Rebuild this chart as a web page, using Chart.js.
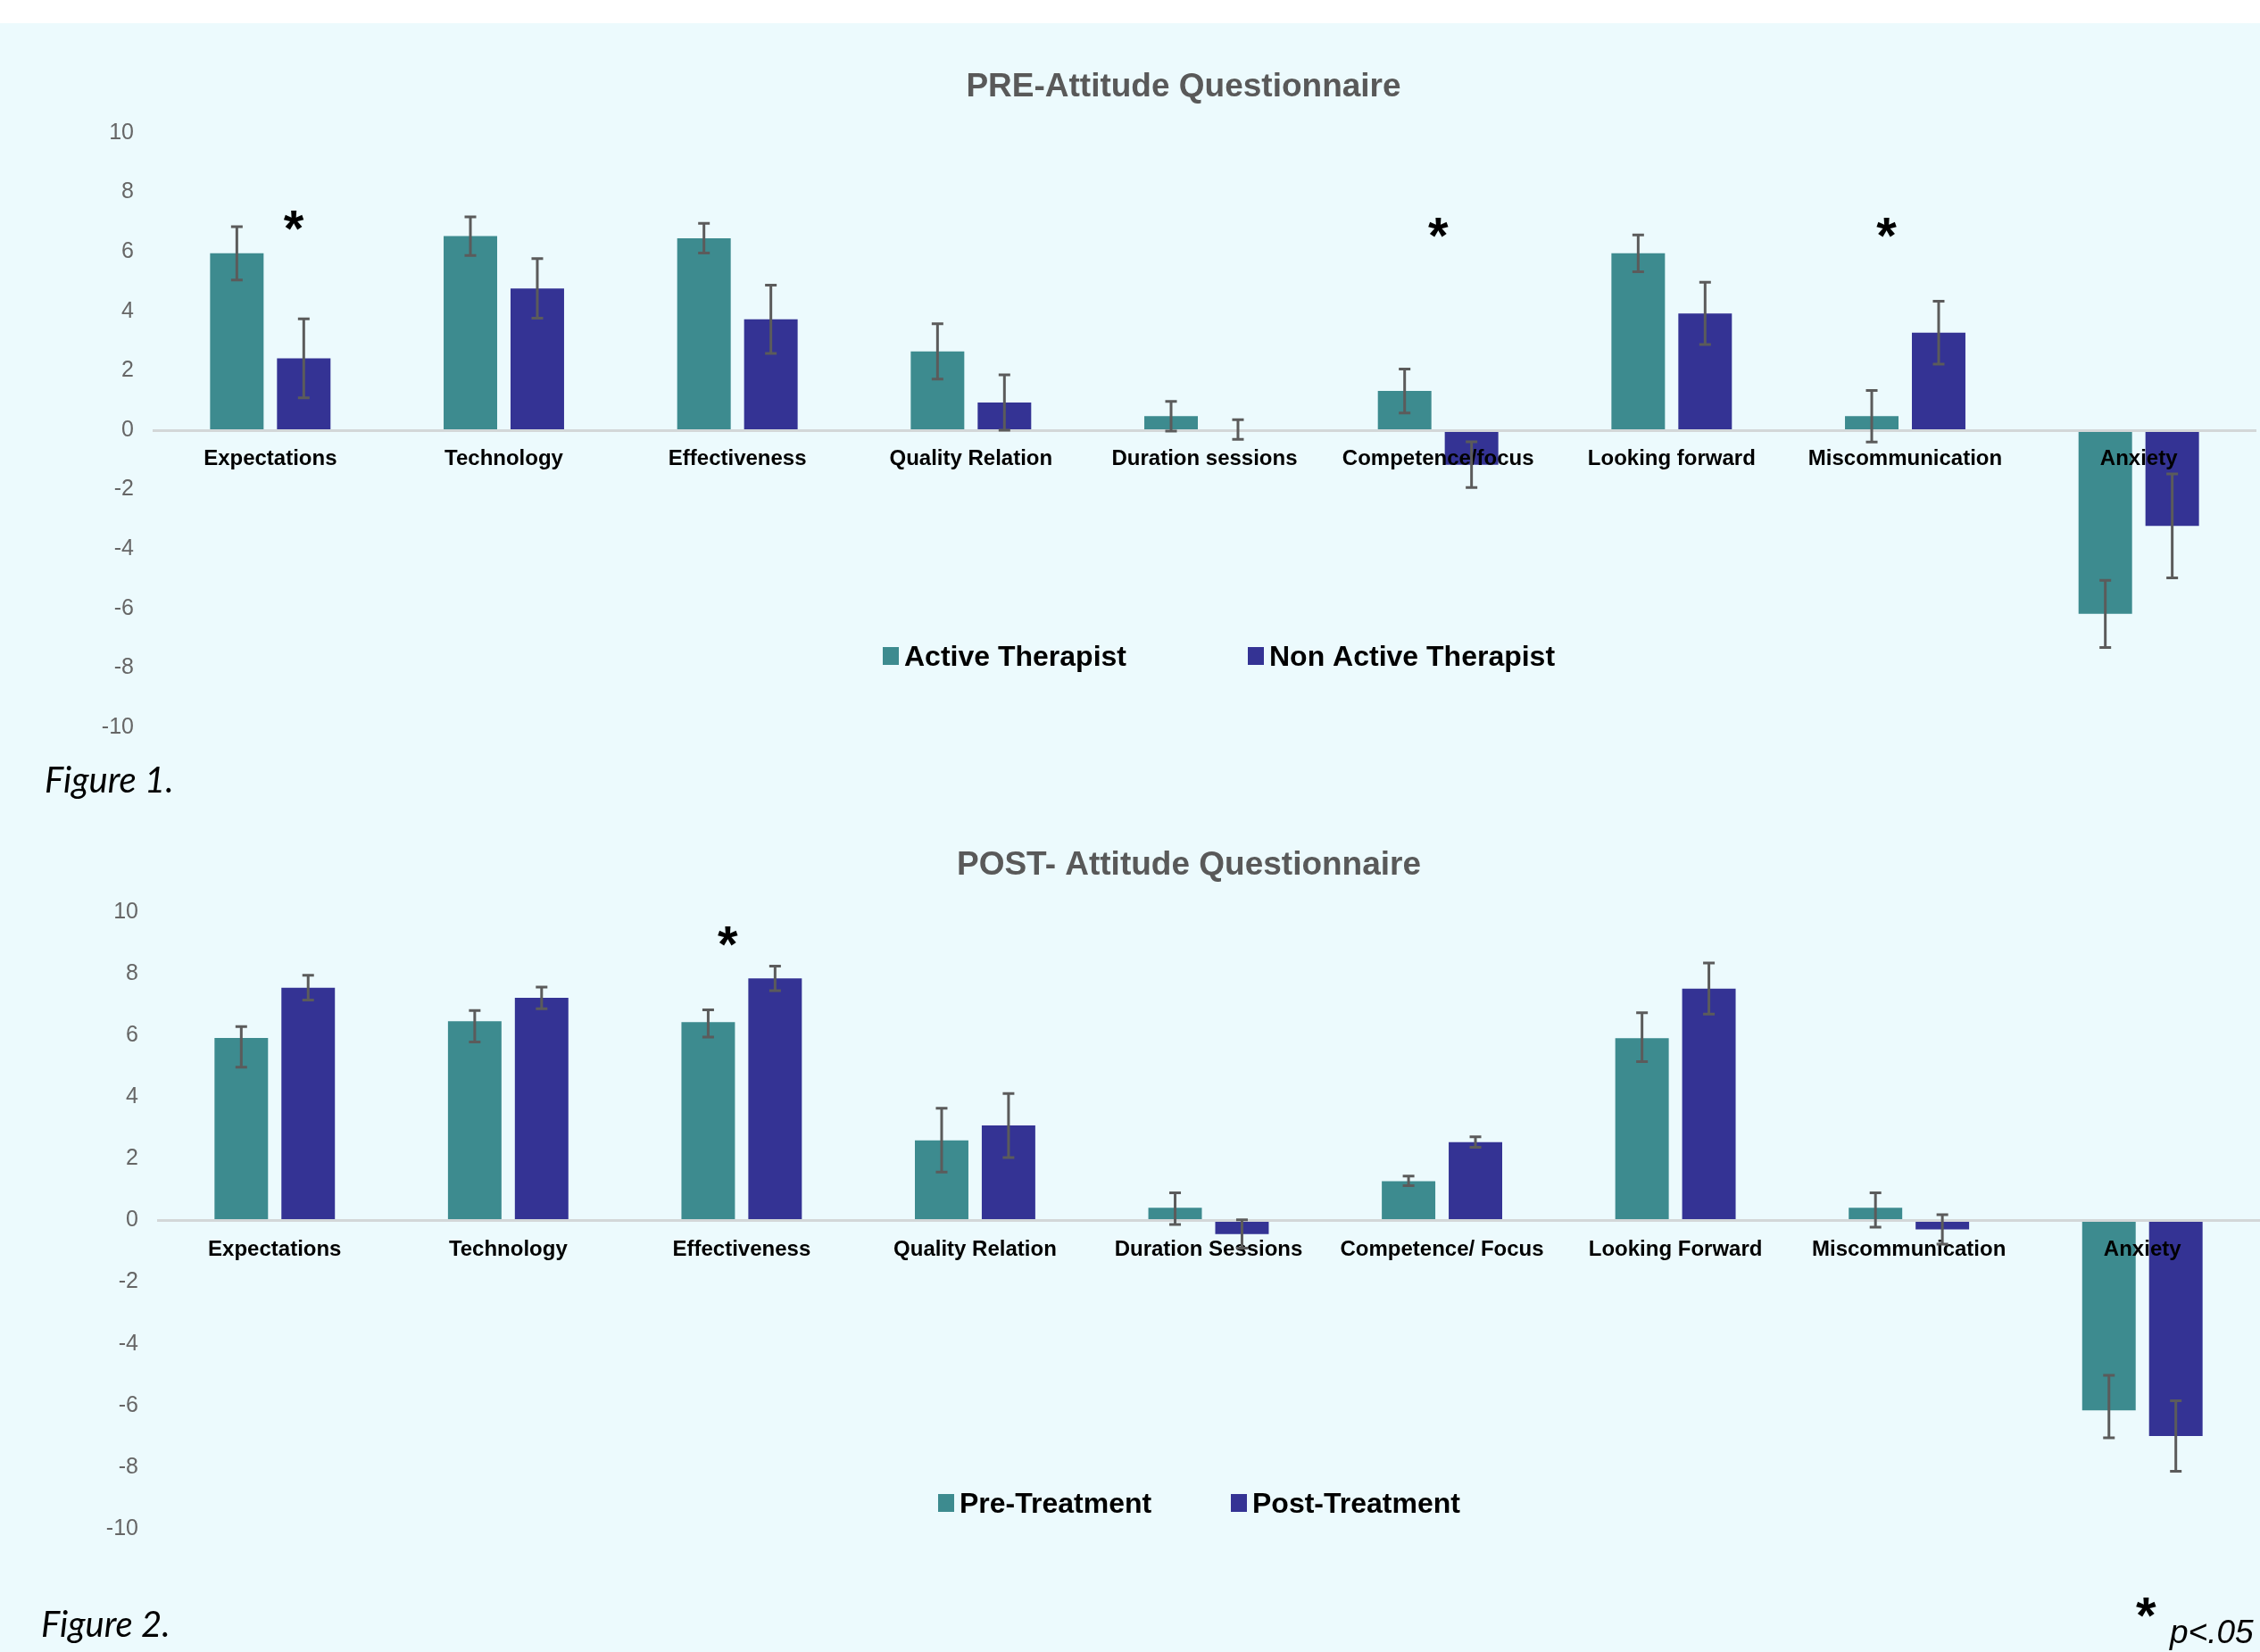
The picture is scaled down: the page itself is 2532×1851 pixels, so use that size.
<!DOCTYPE html>
<html>
<head>
<meta charset="utf-8">
<title>Attitude Questionnaire</title>
<script src="https://cdn.jsdelivr.net/npm/chart.js@4/dist/chart.umd.min.js"></script>
<style>
  html, body { margin: 0; padding: 0; }
  body {
    width: 2532px; height: 1851px; overflow: hidden; position: relative;
    background: #ECFAFD;
    font-family: "Liberation Sans", Arial, sans-serif;
  }
  #topband { position: absolute; left: 0; top: 0; width: 2532px; height: 26px; background: #ffffff; }
  canvas { position: absolute; left: 0; }
  #preChart { top: 26px; }
  #postChart { top: 880px; }
  .note { position: absolute; white-space: nowrap; color: #000; z-index: 2; }
  .fig { font-family: Lato, "Open Sans", sans-serif; font-style: italic; font-size: 40px; line-height: 40px; }
  .star { font-family: "Liberation Sans", Arial, sans-serif; font-weight: bold; font-size: 58px; line-height: 58px; }
  .pval { font-family: "Liberation Sans", Arial, sans-serif; font-style: italic; font-size: 37px; line-height: 37px; }
</style>
</head>
<body>
<div id="topband"></div>
<canvas id="preChart" width="2532" height="854"></canvas>
<canvas id="postChart" width="2532" height="971"></canvas>
<div class="note fig" style="left:50px; top:853px;">Figure 1.</div>
<div class="note fig" style="left:46px; top:1799px;">Figure 2.</div>
<div class="note star" style="left:2393px; top:1781px;">*</div>
<div class="note pval" style="left:2431px; top:1810px;">p&lt;.05</div>

<script>
// ---- PRE-Attitude Questionnaire ----
const preCategories = ['Expectations', 'Technology', 'Effectiveness', 'Quality Relation',
  'Duration sessions', 'Competence/focus', 'Looking forward', 'Miscommunication', 'Anxiety'];
const activeTherapist     = [5.95, 6.53, 6.46, 2.65, 0.47, 1.32, 5.95, 0.47, -6.18];
const activeTherapistErr  = [0.90, 0.65, 0.50, 0.93, 0.50, 0.74, 0.62, 0.87, 1.13];
const nonActiveTherapist    = [2.42, 4.77, 3.73, 0.93, 0.02, -1.16, 3.93, 3.28, -3.22];
const nonActiveTherapistErr = [1.33, 1.00, 1.15, 0.93, 0.33, 0.77, 1.05, 1.06, 1.75];
// significance markers: position along the category axis and height on the value axis
const preSigX = [0.10, 5.00, 6.92];
const preSigY = [7.00, 6.75, 6.75];

// ---- POST-Attitude Questionnaire ----
const postCategories = ['Expectations', 'Technology', 'Effectiveness', 'Quality Relation',
  'Duration Sessions', 'Competence/ Focus', 'Looking Forward', 'Miscommunication', 'Anxiety'];
const preTreatment          = [5.92, 6.46, 6.43, 2.60, 0.41, 1.27, 5.91, 0.41, -6.16];
const preTreatmentErrPlus   = [0.37, 0.35, 0.40, 1.04, 0.49, 0.17, 0.83, 0.49, 1.14];
const preTreatmentErrMinus  = [0.95, 0.67, 0.48, 1.03, 0.54, 0.14, 0.76, 0.63, 0.89];
const postTreatment    = [7.55, 7.22, 7.85, 3.08, -0.44, 2.54, 7.52, -0.29, -6.99];
const postTreatmentErr = [0.40, 0.35, 0.40, 1.04, 0.46, 0.17, 0.83, 0.48, 1.14];
const postSigX = [1.94];
const postSigY = [9.16];

// shared value axis
const yMin = -10, yMax = 10, yStep = 2;

const TEAL = '#3D8B8F';
const NAVY = '#343394';
const FONT = '"Liberation Sans", Arial, sans-serif';

// whiskers with caps, drawn from each bar's value and its error sizes
const errorBars = {
  id: 'errorBars',
  afterDraw(chart) {
    const ctx = chart.ctx, yScale = chart.scales.y;
    chart.data.datasets.forEach((ds, i) => {
      const meta = chart.getDatasetMeta(i);
      meta.data.forEach((bar, j) => {
        const v = ds.data[j];
        const top = yScale.getPixelForValue(v + ds.errPlus[j]);
        const bot = yScale.getPixelForValue(v - ds.errMinus[j]);
        const cap = 6.5;
        ctx.save();
        ctx.strokeStyle = '#5B5B5B';
        ctx.lineWidth = 3;
        ctx.beginPath();
        ctx.moveTo(bar.x, top); ctx.lineTo(bar.x, bot);
        ctx.moveTo(bar.x - cap, top); ctx.lineTo(bar.x + cap, top);
        ctx.moveTo(bar.x - cap, bot); ctx.lineTo(bar.x + cap, bot);
        ctx.stroke();
        ctx.restore();
      });
    });
  }
};

// chart heading
const heading = {
  id: 'heading',
  afterDraw(chart, args, opts) {
    const ctx = chart.ctx;
    ctx.save();
    ctx.font = 'bold 37px ' + FONT;
    ctx.fillStyle = '#595959';
    ctx.textAlign = 'center';
    ctx.textBaseline = 'alphabetic';
    ctx.fillText(opts.text, opts.x, opts.y);
    ctx.restore();
  }
};

// legend drawn inside the plot, one square swatch per dataset
const innerLegend = {
  id: 'innerLegend',
  afterDraw(chart, args, opts) {
    const ctx = chart.ctx;
    ctx.save();
    ctx.font = 'bold 32px ' + FONT;
    ctx.textBaseline = 'alphabetic';
    ctx.textAlign = 'left';
    chart.data.datasets.forEach((ds, i) => {
      const x = opts.x + i * opts.pitch;
      ctx.fillStyle = ds.backgroundColor;
      ctx.fillRect(x, opts.y - 21, 18, 20);
      ctx.fillStyle = '#000';
      ctx.fillText(ds.label, x + 24, opts.y);
    });
    ctx.restore();
  }
};

// significance asterisks
const sigMarks = {
  id: 'sigMarks',
  afterDraw(chart, args, opts) {
    const ctx = chart.ctx, xs = chart.scales.x, ys = chart.scales.y;
    const size = 58;
    ctx.save();
    ctx.font = 'bold ' + size + 'px ' + FONT;
    ctx.fillStyle = '#000';
    ctx.textAlign = 'center';
    ctx.textBaseline = 'alphabetic';
    opts.xs.forEach((xv, k) => {
      const px = xs.getPixelForValue(xv);
      const py = ys.getPixelForValue(opts.ys[k]);
      ctx.fillText('*', px, py + 0.47 * size);
    });
    ctx.restore();
  }
};

function buildChart(canvasId, categories, sets, layoutPad, head, legend, sig) {
  return new Chart(document.getElementById(canvasId), {
    type: 'bar',
    data: {
      labels: categories,
      datasets: sets.map(s => ({
        label: s.label,
        data: s.data,
        errPlus: s.errPlus,
        errMinus: s.errMinus,
        backgroundColor: s.color,
        borderWidth: 0,
        categoryPercentage: 0.573,
        barPercentage: 0.8
      }))
    },
    options: {
      responsive: false,
      animation: false,
      devicePixelRatio: 1,
      layout: { padding: layoutPad },
      plugins: {
        legend: { display: false },
        title: { display: false },
        tooltip: { enabled: false },
        heading: head,
        innerLegend: legend,
        sigMarks: sig
      },
      scales: {
        x: {
          type: 'category',
          position: { y: 0 },
          grid: { display: false, drawTicks: false },
          border: { display: true, color: '#D3D7D8', width: 3, z: 1 },
          ticks: {
            z: 1, color: '#000', padding: 18, autoSkip: false, maxRotation: 0,
            font: { family: FONT, size: 24, weight: 'bold' }
          }
        },
        y: {
          min: yMin, max: yMax,
          grid: { display: false, drawTicks: false },
          border: { display: false },
          ticks: {
            stepSize: yStep, padding: 22, color: '#666666',
            font: { family: FONT, size: 25 }
          },
          afterFit(scale) { scale.width = 120; }
        }
      }
    },
    plugins: [errorBars, heading, innerLegend, sigMarks]
  });
}

buildChart('preChart', preCategories, [
  { label: 'Active Therapist', data: activeTherapist, errPlus: activeTherapistErr, errMinus: activeTherapistErr, color: TEAL },
  { label: 'Non Active Therapist', data: nonActiveTherapist, errPlus: nonActiveTherapistErr, errMinus: nonActiveTherapistErr, color: NAVY }
], { top: 123, bottom: 65, left: 52, right: 5 },
  { text: 'PRE-Attitude Questionnaire', x: 1326, y: 82 },
  { x: 989, y: 720, pitch: 409 },
  { xs: preSigX, ys: preSigY });

buildChart('postChart', postCategories, [
  { label: 'Pre-Treatment', data: preTreatment, errPlus: preTreatmentErrPlus, errMinus: preTreatmentErrMinus, color: TEAL },
  { label: 'Post-Treatment', data: postTreatment, errPlus: postTreatmentErr, errMinus: postTreatmentErr, color: NAVY }
], { top: 142, bottom: 138, left: 57, right: 1 },
  { text: 'POST- Attitude Questionnaire', x: 1332, y: 100 },
  { x: 1051, y: 815, pitch: 328 },
  { xs: postSigX, ys: postSigY });
</script>
</body>
</html>
